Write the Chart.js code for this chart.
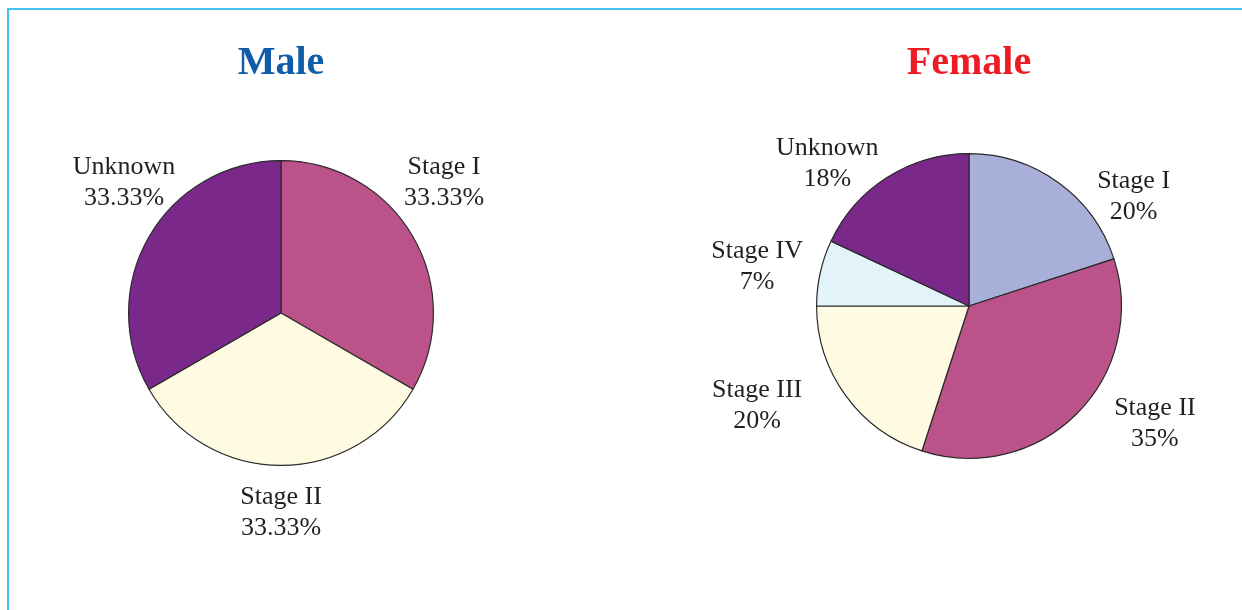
<!DOCTYPE html>
<html>
<head>
<meta charset="utf-8">
<script src="https://cdn.jsdelivr.net/npm/chart.js@4.4.0/dist/chart.umd.min.js"></script>
<style>
  body { margin: 0; background: #fff; width: 1242px; height: 610px; overflow: hidden; position: relative; }
  .frame { position: absolute; left: 7px; top: 8px; right: -10px; bottom: -10px;
           border-top: 2px solid #45c1f0; border-left: 2px solid #45c1f0; }
  canvas { position: absolute; top: 0; }
  #maleChart { left: 0; }
  #femaleChart { left: 620px; }
</style>
</head>
<body>
<div class="frame"></div>
<canvas id="maleChart" width="620" height="610"></canvas>
<canvas id="femaleChart" width="622" height="610"></canvas>
<script>
const maleLabels = ['Stage I', 'Stage II', 'Unknown'];
const maleValues = [33.33, 33.33, 33.33];
const maleText = ['33.33%', '33.33%', '33.33%'];

const femaleLabels = ['Stage I', 'Stage II', 'Stage III', 'Stage IV', 'Unknown'];
const femaleValues = [20, 35, 20, 7, 18];
const femaleText = ['20%', '35%', '20%', '7%', '18%'];

const stageColors = {
  'Stage I': '#a8afd8',
  'Stage II': '#bb538a',
  'Stage III': '#fffbe2',
  'Stage IV': '#e2f3fa',
  'Unknown': '#7b288b'
};
const maleColors = ['#bb538a', '#fffbe2', '#7b288b'];

// label placement, in units of the pie radius from its centre
const maleLabelPos = [[1.07, -0.86], [0, 1.31], [-1.03, -0.86]];
const femaleLabelPos = [[1.08, -0.72], [1.22, 0.77], [-1.39, 0.65], [-1.39, -0.26], [-0.93, -0.94]];

const sliceLabels = {
  id: 'sliceLabels',
  afterDatasetsDraw(chart, args, opts) {
    const ctx = chart.ctx;
    const meta = chart.getDatasetMeta(0);
    ctx.save();
    ctx.font = '26px "Liberation Serif", "Times New Roman", serif';
    ctx.fillStyle = '#231f20';
    ctx.textAlign = 'center';
    ctx.textBaseline = 'middle';
    meta.data.forEach((arc, i) => {
      const r = arc.outerRadius;
      const p = opts.pos[i];
      const x = arc.x + p[0] * r;
      const y = arc.y + p[1] * r;
      ctx.fillText(chart.data.labels[i], x, y - 15);
      ctx.fillText(opts.text[i], x, y + 16);
    });
    ctx.restore();
  }
};

function makePie(id, title, titleColor, labels, values, colors, text, pos, padding, titleBottom) {
  return new Chart(document.getElementById(id), {
    type: 'pie',
    data: {
      labels: labels,
      datasets: [{
        data: values,
        backgroundColor: colors,
        borderColor: '#2a2a2a',
        borderWidth: 1.2
      }]
    },
    options: {
      responsive: false,
      animation: false,
      layout: { padding: padding },
      plugins: {
        legend: { display: false },
        tooltip: { enabled: false },
        title: {
          display: true,
          text: title,
          color: titleColor,
          font: { family: '"Liberation Serif", "Times New Roman", serif', size: 40, weight: 'bold' },
          padding: { top: 40, bottom: titleBottom }
        },
        sliceLabels: { text: text, pos: pos }
      }
    },
    plugins: [sliceLabels]
  });
}

makePie('maleChart', 'Male', '#0f5ca8', maleLabels, maleValues, maleColors, maleText, maleLabelPos,
  { left: 128, right: 186, top: 0, bottom: 144 }, 72);

makePie('femaleChart', 'Female', '#ed1c24', femaleLabels, femaleValues,
  femaleLabels.map(l => stageColors[l]), femaleText, femaleLabelPos,
  { left: 196, right: 120, top: 0, bottom: 149 }, 63);
</script>
</body>
</html>
